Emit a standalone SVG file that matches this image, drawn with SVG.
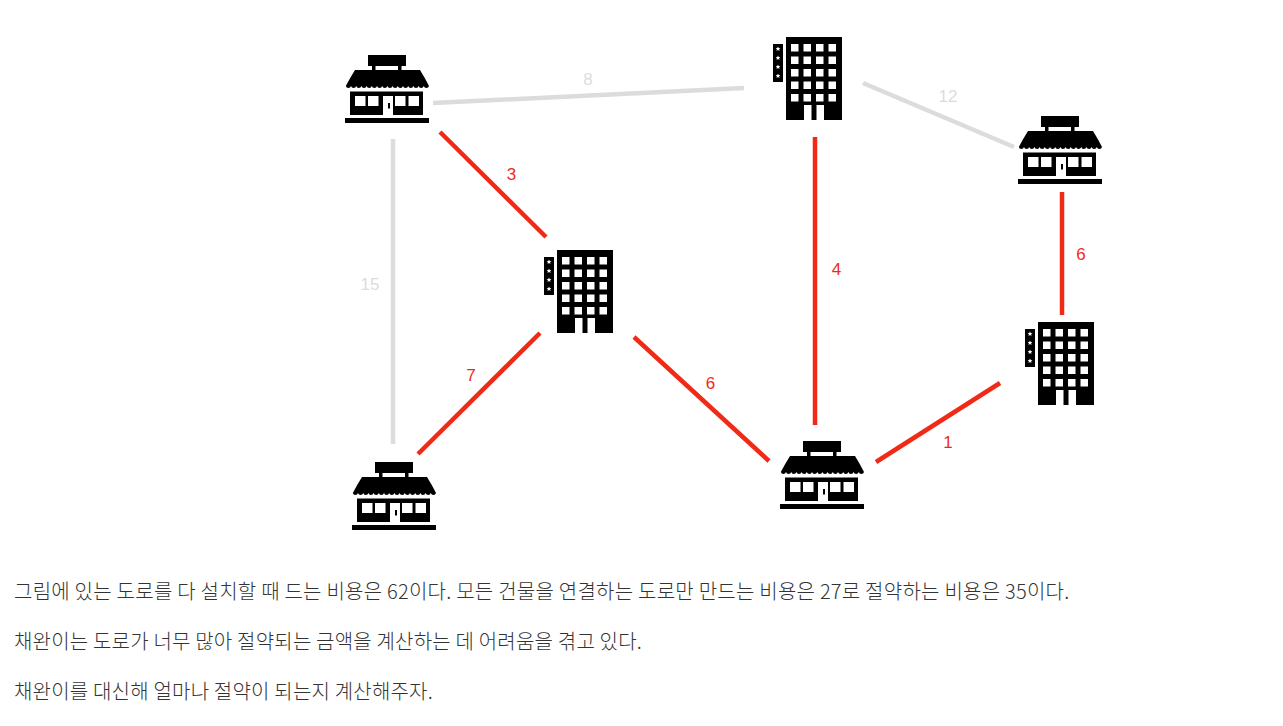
<svg xmlns="http://www.w3.org/2000/svg" width="1283" height="726" viewBox="0 0 1283 726">
<style>
.e{fill:none;stroke-width:4.500;stroke-linecap:butt}
.g{stroke:#dcdcdc}.r{stroke:#ef2b17}
.l{font-family:"Liberation Sans",Arial,sans-serif;font-size:17px;text-anchor:middle}
.lg{fill:#dcdcdc}.lr{fill:#ef2b17}
.t{font-family:"Noto Sans CJK KR","Noto Sans",sans-serif;font-size:20px;font-weight:300;letter-spacing:.2px;fill:#333}
.i{filter:url(#soft)}
</style>
<defs>
<filter id="soft" x="-5%" y="-5%" width="110%" height="110%"><feGaussianBlur stdDeviation="0.35"/></filter>
<symbol id="shop" width="84" height="68" viewBox="0 0 84 68" overflow="visible">
<rect x="23" y="0" width="38" height="11" fill="#000"/>
<rect x="27" y="11" width="3.500" height="5" fill="#000"/><rect x="53" y="11" width="3.500" height="5" fill="#000"/>
<path d="M10 15H75Q80 23 84 31a2.700 2.700 0 0 1-5.200 0a2.700 2.700 0 0 1-5.200 0a2.700 2.700 0 0 1-5.200 0a2.700 2.700 0 0 1-5.200 0a2.700 2.700 0 0 1-5.200 0a2.700 2.700 0 0 1-5.200 0a2.700 2.700 0 0 1-5.200 0a2.700 2.700 0 0 1-5.200 0a2.700 2.700 0 0 1-5.200 0a2.700 2.700 0 0 1-5.200 0a2.700 2.700 0 0 1-5.200 0a2.700 2.700 0 0 1-5.200 0a2.700 2.700 0 0 1-5.200 0a2.700 2.700 0 0 1-5.200 0a2.700 2.700 0 0 1-5.200 0a2.700 2.700 0 0 1-5.200 0Q5 23 10 15Z" fill="#000"/>
<rect x="5" y="36.500" width="73" height="23.500" fill="#000"/>
<g fill="#fff"><rect x="10" y="41" width="10.500" height="10"/><rect x="23" y="41" width="10.500" height="10"/><rect x="50" y="41" width="10.500" height="10"/><rect x="63.500" y="41" width="10.500" height="10"/><rect x="38" y="41" width="10" height="20"/></g>
<rect x="43" y="48" width="2" height="5.500" fill="#000"/>
<rect y="63" width="84" height="5" fill="#000"/>
</symbol>
<symbol id="hotel" width="69" height="83" viewBox="0 0 69 83" overflow="visible">
<rect x="13" width="56" height="83" fill="#000"/>
<rect y="7" width="10" height="38" fill="#000"/>
<g fill="#fff">
<rect x="18" y="7" width="7.500" height="7.500"/><rect x="30.500" y="7" width="7.500" height="7.500"/><rect x="43" y="7" width="7.500" height="7.500"/><rect x="55.500" y="7" width="7.500" height="7.500"/>
<rect x="18" y="19.500" width="7.500" height="7.500"/><rect x="30.500" y="19.500" width="7.500" height="7.500"/><rect x="43" y="19.500" width="7.500" height="7.500"/><rect x="55.500" y="19.500" width="7.500" height="7.500"/>
<rect x="18" y="32" width="7.500" height="7.500"/><rect x="30.500" y="32" width="7.500" height="7.500"/><rect x="43" y="32" width="7.500" height="7.500"/><rect x="55.500" y="32" width="7.500" height="7.500"/>
<rect x="18" y="44.500" width="7.500" height="7.500"/><rect x="30.500" y="44.500" width="7.500" height="7.500"/><rect x="43" y="44.500" width="7.500" height="7.500"/><rect x="55.500" y="44.500" width="7.500" height="7.500"/>
<rect x="18" y="57" width="7.500" height="7.500"/><rect x="30.500" y="57" width="7.500" height="7.500"/><rect x="43" y="57" width="7.500" height="7.500"/><rect x="55.500" y="57" width="7.500" height="7.500"/>
<rect x="31" y="68" width="7.500" height="15"/><rect x="43.500" y="68" width="7.500" height="15"/>
<path d="M5 9.500l.7 1.600 1.700.1-1.300 1.100.4 1.700-1.500-.9-1.500.9.400-1.700-1.300-1.100 1.700-.1Z"/>
<path d="M5 18.500l.7 1.600 1.700.1-1.300 1.100.4 1.700-1.500-.9-1.500.9.400-1.700-1.300-1.100 1.700-.1Z"/>
<path d="M5 27.500l.7 1.600 1.700.1-1.300 1.100.4 1.700-1.500-.9-1.500.9.400-1.700-1.300-1.100 1.700-.1Z"/>
<path d="M5 36.500l.7 1.600 1.700.1-1.300 1.100.4 1.700-1.500-.9-1.500.9.400-1.700-1.300-1.100 1.700-.1Z"/>
</g>
</symbol>
</defs>
<rect width="1283" height="726" fill="#fff"/>
<g id="connectors">
<line class="e g" x1="433" y1="103" x2="744" y2="88"/>
<line class="e g" x1="863" y1="83" x2="1014" y2="147"/>
<line class="e g" x1="393" y1="139" x2="393" y2="444"/>
<line class="e r" x1="440" y1="132" x2="546" y2="237"/>
<line class="e r" x1="815" y1="137" x2="815" y2="425"/>
<line class="e r" x1="1062" y1="192" x2="1062" y2="315"/>
<line class="e r" x1="540" y1="333" x2="418" y2="454"/>
<line class="e r" x1="634" y1="337" x2="769" y2="461"/>
<line class="e r" x1="1000" y1="383" x2="876" y2="462"/>
</g>
<g id="edge-labels">
<text class="l lg" x="588" y="85">8</text>
<text class="l lg" x="948" y="102">12</text>
<text class="l lg" x="370" y="290">15</text>
<text class="l lr" x="511.500" y="180">3</text>
<text class="l lr" x="836.500" y="275">4</text>
<text class="l lr" x="1081" y="260">6</text>
<text class="l lr" x="471" y="381">7</text>
<text class="l lr" x="710.500" y="388.500">6</text>
<text class="l lr" x="948" y="448">1</text>
</g>
<g id="shop-1" class="i"><use href="#shop" x="345" y="55"/></g>
<g id="shop-2" class="i"><use href="#shop" x="1018" y="116"/></g>
<g id="shop-3" class="i"><use href="#shop" x="352" y="462"/></g>
<g id="shop-4" class="i"><use href="#shop" x="780" y="441"/></g>
<g id="hotel-1" class="i"><use href="#hotel" x="773" y="37"/></g>
<g id="hotel-2" class="i"><use href="#hotel" x="544" y="250"/></g>
<g id="hotel-3" class="i"><use href="#hotel" x="1025" y="322"/></g>
<g id="caption">
<text class="t" x="14" y="599" style="letter-spacing:.25px">그림에 있는 도로를 다 설치할 때 드는 비용은 62이다. 모든 건물을 연결하는 도로만 만드는 비용은 27로 절약하는 비용은 35이다.</text>
<text class="t" x="14" y="649">채완이는 도로가 너무 많아 절약되는 금액을 계산하는 데 어려움을 겪고 있다.</text>
<text class="t" x="14" y="699">채완이를 대신해 얼마나 절약이 되는지 계산해주자.</text>
</g>
</svg>
